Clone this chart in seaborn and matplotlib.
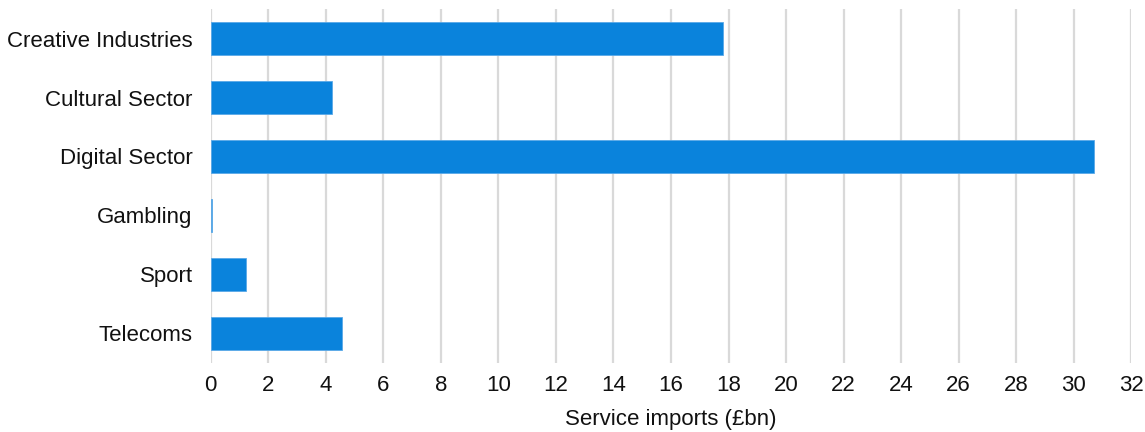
import matplotlib
matplotlib.use("Agg")
import matplotlib.pyplot as plt
import seaborn as sns
import pandas as pd

sectors = ["Creative Industries", "Cultural Sector", "Digital Sector",
           "Gambling", "Sport", "Telecoms"]
imports_bn = [17.8, 4.2, 30.7, 0.05, 1.22, 4.58]
x_ticks = list(range(0, 33, 2))

df = pd.DataFrame({"sector": sectors, "imports": imports_bn})

sns.set_theme(style="white")
plt.rcParams["font.family"] = ["Liberation Sans", "DejaVu Sans"]

fig = plt.figure(figsize=(11.45, 4.32), dpi=100)
ax = fig.add_axes([0.184, 0.160, 0.804, 0.819])

sns.barplot(data=df, x="imports", y="sector", orient="h", color="#0a83dc",
            saturation=1, width=0.56, edgecolor="#5aa9e8", linewidth=0.6,
            ax=ax)

ax.set_xlim(0, 32)
ax.set_ylim(5.5, -0.5)
ax.set_xticks(x_ticks)
ax.set_xticklabels([str(t) for t in x_ticks])
ax.xaxis.grid(True, color="#d9d9d9", linewidth=1.6)
ax.set_axisbelow(True)
for side in ["top", "right", "bottom", "left"]:
    ax.spines[side].set_visible(False)

ax.tick_params(axis="both", length=0, labelsize=16, colors="#111111")
ax.tick_params(axis="x", pad=9)
ax.tick_params(axis="y", pad=13)
ax.set_ylabel("")
ax.set_xlabel("Service imports (£bn)", fontsize=16, color="#111111", labelpad=9)

fig.savefig("out.png", dpi=100)
